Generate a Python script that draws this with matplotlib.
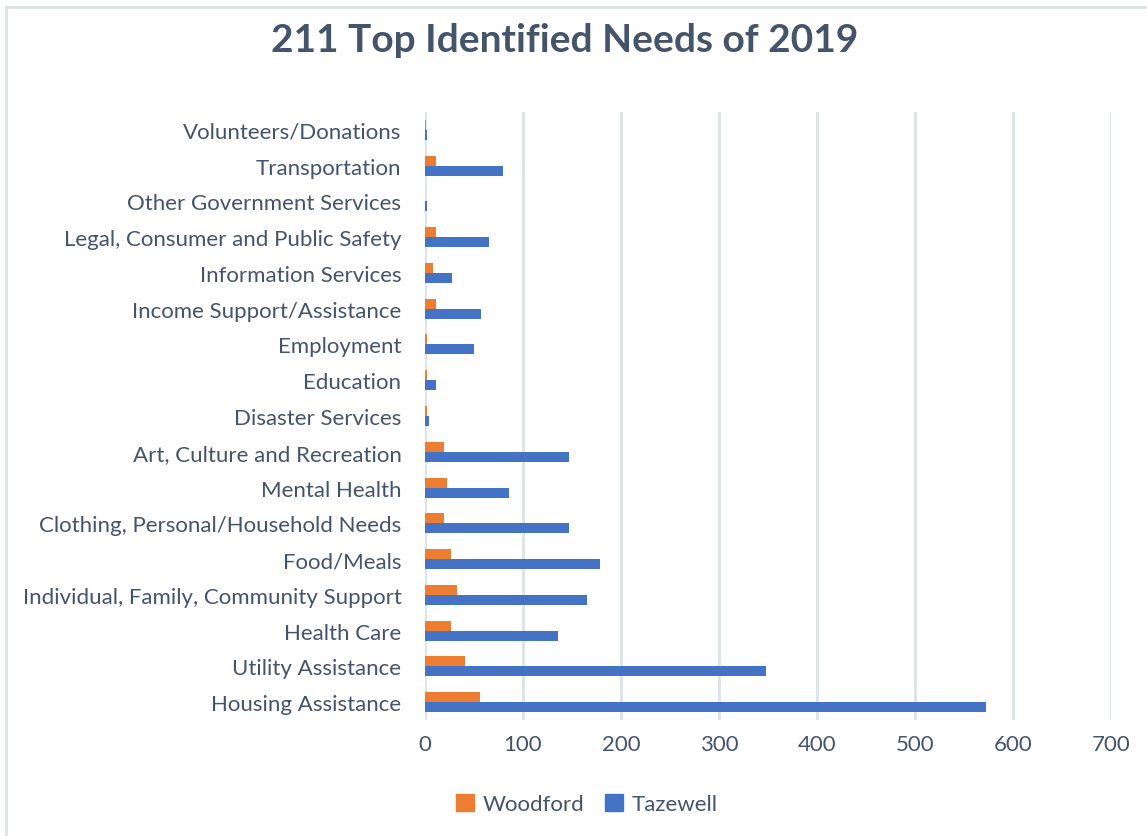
"""
211 top identified needs of 2019, Woodford vs Tazewell (horizontal bars).
"""

import numpy as np
import matplotlib
matplotlib.use('Agg')
import matplotlib.pyplot as plt
from matplotlib.lines import Line2D
from matplotlib.patches import Patch

# categories listed bottom to top, as drawn
categories = [
    'Housing Assistance',
    'Utility Assistance',
    'Health Care',
    'Individual, Family, Community Support',
    'Food/Meals',
    'Clothing, Personal/Household Needs',
    'Mental Health',
    'Art, Culture and Recreation',
    'Disaster Services',
    'Education',
    'Employment',
    'Income Support/Assistance',
    'Information Services',
    'Legal, Consumer and Public Safety',
    'Other Government Services',
    'Transportation',
    'Volunteers/Donations',
]
woodford = [56, 41, 27, 33, 27, 19, 22, 19, 2, 2, 2, 11, 8, 11, 0, 11, 1]
tazewell = [572, 348, 136, 165, 179, 147, 86, 147, 4, 11, 50, 57, 28, 65, 2, 80, 2]
xticks = [0, 100, 200, 300, 400, 500, 600, 700]

ORANGE = '#ED7D31'
BLUE = '#4472C4'
TEXT = '#44546A'
GRID = '#DDE2E9'

W, H = 1147, 837


def main():
    plt.rcParams['font.family'] = ['Lato', 'DejaVu Sans']
    fig = plt.figure(figsize=(W / 100, H / 100), dpi=100)

    # chart border (partly cropped in the original)
    fig.add_artist(Line2D([6 / W, 1], [1 - 8 / H, 1 - 8 / H], color=GRID, lw=2,
                          transform=fig.transFigure))
    fig.add_artist(Line2D([6 / W, 6 / W], [0, 1 - 8 / H], color=GRID, lw=2,
                          transform=fig.transFigure))

    ax = fig.add_axes([425 / W, (H - 721) / H, (1111 - 425) / W, (721 - 113) / H])

    y = np.arange(len(categories))
    h = 0.28
    ax.barh(y + h / 2, woodford, height=h, color=ORANGE, zorder=3)
    ax.barh(y - h / 2, tazewell, height=h, color=BLUE, zorder=3)

    ax.set_xlim(0, 700)
    ax.set_ylim(-0.5, len(categories) - 0.5)
    ax.set_xticks(xticks)
    ax.set_yticks(y)
    ax.set_yticklabels(categories)
    ax.tick_params(axis='both', length=0, labelsize=16, colors=TEXT)
    ax.tick_params(axis='y', pad=17)
    ax.tick_params(axis='x', pad=10)
    ax.xaxis.grid(True, color=GRID, lw=2, zorder=0)
    for s in ax.spines.values():
        s.set_visible(False)

    fig.text(565 / W, 1 - 41 / H, '211 Top Identified Needs of 2019', ha='center',
             va='center', fontsize=28, fontweight='bold', color=TEXT)

    handles = [Patch(color=ORANGE, label='Woodford'),
               Patch(color=BLUE, label='Tazewell')]
    fig.legend(handles=handles, loc='center', bbox_to_anchor=(587 / W, 1 - 805 / H),
               ncol=2, frameon=False, fontsize=16, labelcolor=TEXT,
               handlelength=0.8, handleheight=0.8, handletextpad=0.4,
               columnspacing=0.9)

    fig.savefig('out.png', dpi=100, facecolor='white')
    plt.close(fig)


if __name__ == '__main__':
    main()
